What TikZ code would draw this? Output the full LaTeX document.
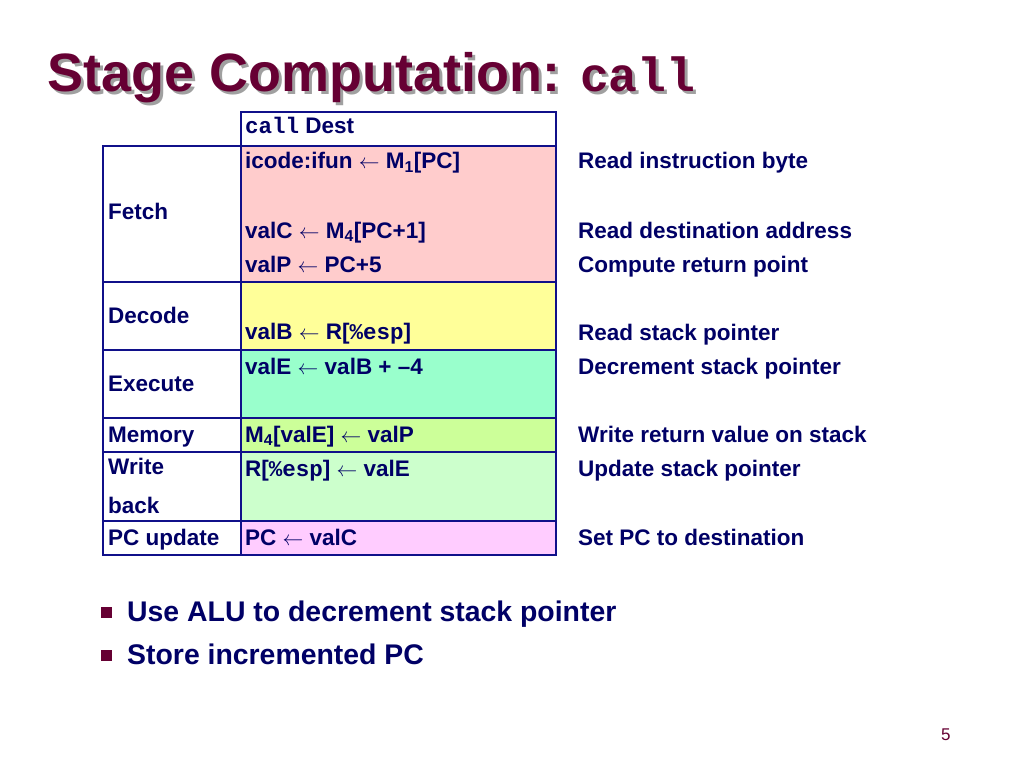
\documentclass[tikz,border=0pt]{standalone}
\usepackage{fontspec}
\setmainfont{Liberation Sans}
\setmonofont{Liberation Mono}
\definecolor{ink}{HTML}{000066}
\definecolor{navy}{HTML}{10108A}
\definecolor{maroon}{HTML}{660033}
\definecolor{shadowgray}{HTML}{A0A0A0}
\definecolor{fetchc}{HTML}{FFCCCC}
\definecolor{decodec}{HTML}{FFFF99}
\definecolor{execc}{HTML}{99FFCC}
\definecolor{memc}{HTML}{CCFF99}
\definecolor{wbc}{HTML}{CCFFCC}
\definecolor{pcc}{HTML}{FFCCFF}
\newcommand{\arr}{\ensuremath{\leftarrow}}
\newcommand{\ttlmono}[1]{{\fontsize{48}{50}\selectfont\ttfamily #1}}
\begin{document}
\begin{tikzpicture}[x=1pt,y=-1pt,
  cell/.style={draw=navy, line width=1.8pt, anchor=north west, inner sep=0pt, rectangle},
  tt/.style={anchor=base west, inner sep=0pt, text=ink, font=\fontsize{22.5}{26}\selectfont\bfseries},
  bul/.style={anchor=base west, inner sep=0pt, text=ink, font=\fontsize{28.4}{32}\selectfont\bfseries},
  ttl/.style={anchor=base west, inner sep=0pt, font=\fontsize{54}{58}\selectfont\bfseries},
  sq/.style={fill=maroon, minimum width=11pt, minimum height=11pt, inner sep=0pt, anchor=center}]
\useasboundingbox[fill=white] (0,0) rectangle (1024,767);
% title
\node[ttl, text=shadowgray] (titleshadow) at (50,95) {Stage Computation: \ttlmono{call}};
\node[ttl, text=maroon] (title) at (47,92) {Stage Computation: \ttlmono{call}};
% cells
\node[cell, minimum width=315pt, minimum height=34pt] (top) at (240,111) {};
\node[cell, fill=fetchc, minimum width=315pt, minimum height=136pt] (fetchR) at (240,145) {};
\node[cell, minimum width=138pt, minimum height=136pt] (fetchL) at (102,145) {};
\node[cell, fill=decodec, minimum width=315pt, minimum height=68pt] (decR) at (240,281) {};
\node[cell, minimum width=138pt, minimum height=68pt] (decL) at (102,281) {};
\node[cell, fill=execc, minimum width=315pt, minimum height=68pt] (exR) at (240,349) {};
\node[cell, minimum width=138pt, minimum height=68pt] (exL) at (102,349) {};
\node[cell, fill=memc, minimum width=315pt, minimum height=34pt] (memR) at (240,417) {};
\node[cell, minimum width=138pt, minimum height=34pt] (memL) at (102,417) {};
\node[cell, fill=wbc, minimum width=315pt, minimum height=69pt] (wbR) at (240,451) {};
\node[cell, minimum width=138pt, minimum height=69pt] (wbL) at (102,451) {};
\node[cell, fill=pcc, minimum width=315pt, minimum height=34pt] (pcR) at (240,520) {};
\node[cell, minimum width=138pt, minimum height=34pt] (pcL) at (102,520) {};
% left labels
\node[tt] (lfetch) at (108,220) {Fetch};
\node[tt] (ldec) at (108,323) {Decode};
\node[tt] (lex) at (108,391) {Execute};
\node[tt] (lmem) at (108,442) {Memory};
\node[tt] (lwb1) at (108,474) {Write};
\node[tt] (lwb2) at (108,513) {back};
\node[tt] (lpc) at (108,545) {PC update};
% middle
\node[tt] (mtop) at (245,134) {\texttt{call} Dest};
\node[tt] (m1) at (245,169) {icode:ifun \arr{} M\textsubscript{1}[PC]};
\node[tt] (m2) at (245,238) {valC \arr{} M\textsubscript{4}[PC+1]};
\node[tt] (m3) at (245,272) {valP \arr{} PC+5};
\node[tt] (m4) at (245,339) {valB \arr{} R[\texttt{\%esp}]};
\node[tt] (m5) at (245,374) {valE \arr{} valB + –4};
\node[tt] (m6) at (245,442) {M\textsubscript{4}[valE] \arr{} valP};
\node[tt] (m7) at (245,476) {R[\texttt{\%esp}] \arr{} valE};
\node[tt] (m8) at (245,545) {PC \arr{} valC};
% right comments
\node[tt] (c1) at (578,169) {Read instruction byte};
\node[tt] (c2) at (578,238) {Read destination address};
\node[tt] (c3) at (578,272) {Compute return point};
\node[tt] (c4) at (578,340) {Read stack pointer};
\node[tt] (c5) at (578,374) {Decrement stack pointer};
\node[tt] (c6) at (578,442) {Write return value on stack};
\node[tt] (c7) at (578,476) {Update stack pointer};
\node[tt] (c8) at (578,545) {Set PC to destination};
% bullets
\node[sq] (s1) at (106,612) {};
\node[bul] (b1) at (127,621) {Use ALU to decrement stack pointer};
\node[sq] (s2) at (106,655) {};
\node[bul] (b2) at (127,664) {Store incremented PC};
% page number
\node[anchor=base west, inner sep=0pt, text=maroon, font=\fontsize{17}{20}\selectfont] (pnum) at (941,740) {5};
\end{tikzpicture}
\end{document}
